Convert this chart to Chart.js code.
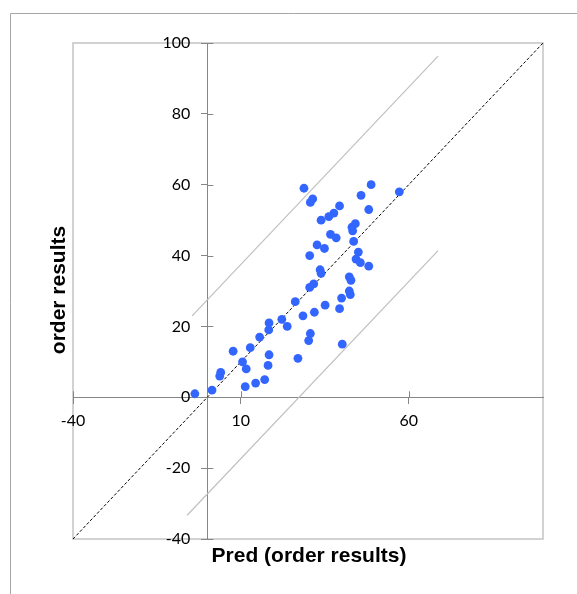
<!DOCTYPE html>
<html>
<head>
<meta charset="utf-8">
<script src="https://cdn.jsdelivr.net/npm/chart.js@4/dist/chart.umd.min.js"></script>
<style>
  html, body { margin: 0; padding: 0; background: #fff; }
  #wrap { width: 577px; height: 594px; position: relative; }
</style>
</head>
<body>
<div id="wrap"><canvas id="chart" width="577" height="594"></canvas></div>
<script>
const predValues = [28.8, 31.4, 30.7, 39.4, 37.7, 36.2, 33.9, 45.8, 48.8, 48.1,
  57.2, 44.1, 43.1, 43.3, 36.7, 38.4, 43.6, 32.7, 34.9, 30.5,
  45.0, 44.3, 45.6, 48.1, 33.6, 33.9, 42.3, 42.8, 31.7, 30.5,
  42.3, 42.6, 40.0, 26.2, 35.1, 39.4, 31.9, 28.5, 22.2, 18.4,
  23.8, 18.3, 15.6, 30.7, 30.2, 40.2, 7.7, 12.8, 18.4, 10.5,
  27.0, 4.0, 3.7, 11.6, 18.1, 17.1, 14.4, 11.3, 1.4, -3.7];
const orderResults = [59, 56, 55, 54, 52, 51, 50, 57, 60, 53,
  58, 49, 48, 47, 46, 45, 44, 43, 42, 40,
  41, 39, 38, 37, 36, 35, 34, 33, 32, 31,
  30, 29, 28, 27, 26, 25, 24, 23, 22, 21,
  20, 19, 17, 18, 16, 15, 13, 14, 12, 10,
  11, 7, 6, 8, 9, 5, 4, 3, 2, 1];

// bound lines and 1:1 line
const upperX = [-4.5, 68.75];
const upperY = [23, 96.3];
const lowerX = [-6, 68.75];
const lowerY = [-33.3, 41.4];
const diagX = [-40, 100];
const diagY = [-40, 100];

const xTicks = [-40, 10, 60];
const yTicks = [-40, -20, 0, 20, 40, 60, 80, 100];

const toPts = (xs, ys) => xs.map((x, i) => ({ x: x, y: ys[i] }));

const axisGray = '#868686';
const tickFont = '16px Lato, "Open Sans", sans-serif';

// plot box, outer frame, ticks on the other side of the axes, y labels, titles
const decor = {
  id: 'decor',
  beforeDraw(chart) {
    const { ctx, chartArea: a } = chart;
    ctx.save();
    ctx.strokeStyle = '#a6a6a6';
    ctx.lineWidth = 1;
    ctx.beginPath();
    ctx.moveTo(10.5, 594);
    ctx.lineTo(10.5, 13.5);
    ctx.lineTo(577, 13.5);
    ctx.stroke();
    ctx.strokeStyle = '#c4c4c4';
    ctx.lineWidth = 1.5;
    ctx.strokeRect(a.left, a.top, a.right - a.left, a.bottom - a.top);
    ctx.restore();
  },
  afterDraw(chart) {
    const { ctx, scales: { x, y } } = chart;
    const x0 = x.getPixelForValue(0);
    const y0 = y.getPixelForValue(0);
    ctx.save();
    ctx.strokeStyle = axisGray;
    ctx.lineWidth = 1;
    ctx.beginPath();
    x.ticks.forEach(t => {
      const px = Math.round(x.getPixelForValue(t.value)) + 0.5;
      ctx.moveTo(px, y0);
      ctx.lineTo(px, y0 - 6);
    });
    y.ticks.forEach(t => {
      const py = Math.round(y.getPixelForValue(t.value)) + 0.5;
      ctx.moveTo(x0, py);
      ctx.lineTo(x0 + 6, py);
    });
    ctx.stroke();

    // y tick labels sit a bit left of the zero axis
    ctx.fillStyle = '#000';
    ctx.font = tickFont;
    ctx.textAlign = 'right';
    ctx.textBaseline = 'middle';
    y.ticks.forEach(t => {
      ctx.fillText(String(t.value), x0 - 17, y.getPixelForValue(t.value));
    });

    ctx.font = 'bold 21px "Liberation Sans", Arial, sans-serif';
    ctx.textAlign = 'center';
    ctx.fillText('Pred (order results)', 309, 556);
    ctx.translate(59, 290);
    ctx.rotate(-Math.PI / 2);
    ctx.fillText('order results', 0, 0);
    ctx.restore();
  }
};

new Chart(document.getElementById('chart'), {
  type: 'scatter',
  data: {
    datasets: [
      {
        label: 'order results',
        data: toPts(predValues, orderResults),
        backgroundColor: '#3366ff',
        borderWidth: 0,
        pointRadius: 4.4,
        pointHoverRadius: 4.4
      },
      {
        data: toPts(diagX, diagY),
        showLine: true,
        borderColor: '#000',
        borderWidth: 1,
        borderDash: [3, 2],
        pointRadius: 0
      },
      {
        data: toPts(upperX, upperY),
        showLine: true,
        borderColor: '#c0c0c0',
        borderWidth: 1.2,
        pointRadius: 0
      },
      {
        data: toPts(lowerX, lowerY),
        showLine: true,
        borderColor: '#c0c0c0',
        borderWidth: 1.2,
        pointRadius: 0
      }
    ]
  },
  options: {
    responsive: false,
    animation: false,
    layout: { padding: { left: 73, top: 43, right: 34, bottom: 55 } },
    plugins: {
      legend: { display: false },
      tooltip: { enabled: false }
    },
    scales: {
      x: {
        type: 'linear',
        min: -40,
        max: 100,
        position: { y: 0 },
        afterBuildTicks: s => { s.ticks = xTicks.map(v => ({ value: v })); },
        grid: { drawOnChartArea: false, tickLength: 6, color: axisGray },
        border: { color: axisGray },
        ticks: {
          color: '#000',
          padding: 8,
          maxRotation: 0,
          font: { family: 'Lato, "Open Sans", sans-serif', size: 16 }
        }
      },
      y: {
        type: 'linear',
        min: -40,
        max: 100,
        position: { x: 0 },
        afterBuildTicks: s => { s.ticks = yTicks.map(v => ({ value: v })); },
        grid: { drawOnChartArea: false, tickLength: 6, color: axisGray },
        border: { color: axisGray },
        ticks: { display: false }
      }
    }
  },
  plugins: [decor]
});
</script>
</body>
</html>
